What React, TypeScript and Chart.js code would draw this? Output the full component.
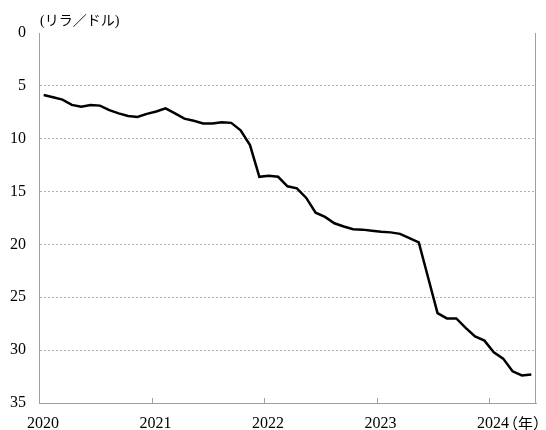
import { useEffect, useRef } from 'react';
import Chart from 'chart.js/auto';

const yearLabels = ['2020', '2021', '2022', '2023', '2024'];
const monthsPerYear = 12;
const monthCount = 53;
const yTickStep = 5;
const yMin = 0;
const yMax = 35;
const yUnit = '(リラ／ドル)';
const xUnit = '（年）';

// USD/TRY monthly, Jan 2020 – May 2024
const rates = [
  5.87, 6.08, 6.3, 6.8, 6.97, 6.82, 6.87, 7.3, 7.6, 7.85, 7.95, 7.65,
  7.42, 7.13, 7.6, 8.1, 8.3, 8.55, 8.55, 8.45, 8.5, 9.2, 10.6, 13.6,
  13.5, 13.6, 14.5, 14.7, 15.6, 17.0, 17.4, 18.0, 18.3, 18.57, 18.6, 18.7,
  18.8, 18.86, 19.0, 19.4, 19.8, 23.15, 26.5, 27.0, 27.0, 27.9, 28.7, 29.1,
  30.2, 30.8, 32.0, 32.4, 32.3,
];

const axisColor = '#a0a0a0';
const gridColor = '#b0b0b0';
const serif = '"Liberation Serif", "Times New Roman", serif';
const jp = '"Liberation Serif", "Noto Sans CJK JP", serif';
const jpFull = '"Noto Sans CJK JP", serif';

const decor = {
  id: 'decor',
  afterDraw(chart: any) {
    const { ctx, chartArea: a, scales } = chart;
    ctx.save();
    ctx.strokeStyle = axisColor;
    ctx.lineWidth = 1;
    ctx.beginPath();
    const rx = Math.round(a.right) - 0.5;
    ctx.moveTo(rx, a.top);
    ctx.lineTo(rx, a.bottom);
    const xs = scales.x;
    xs.ticks.forEach((t: any) => {
      if (t.value === xs.min) return;
      const px = Math.round(xs.getPixelForValue(t.value)) + 0.5;
      ctx.moveTo(px, a.bottom);
      ctx.lineTo(px, a.bottom - 5);
    });
    ctx.stroke();
    ctx.fillStyle = '#000';
    ctx.font = '14px ' + jp;
    ctx.textAlign = 'left';
    ctx.textBaseline = 'middle';
    ctx.fillText(yUnit, a.left + 1, a.top - 12);
    ctx.font = '15px ' + jpFull;
    ctx.fillText(xUnit, a.right - 33, a.bottom + 20);
    ctx.restore();
  },
};

export default function App() {
  const ref = useRef<HTMLCanvasElement>(null);
  useEffect(() => {
    if (!ref.current) return;
    const points = rates.map((v, i) => ({ x: i + 0.5, y: v }));
    const chart = new Chart(ref.current, {
      type: 'line',
      data: {
        datasets: [
          {
            data: points,
            borderColor: '#000',
            borderWidth: 2.5,
            pointRadius: 0,
            tension: 0,
            fill: false,
          },
        ],
      },
      options: {
        animation: false,
        responsive: false,
        layout: { padding: { top: 33, right: 10, left: 0, bottom: 0 } },
        plugins: { legend: { display: false }, tooltip: { enabled: false } },
        scales: {
          x: {
            type: 'linear',
            min: 0,
            max: monthCount,
            afterBuildTicks: (s: any) => {
              s.ticks = yearLabels.map((_, i) => ({ value: i * monthsPerYear }));
            },
            afterFit: (s: any) => {
              s.height = 27;
            },
            ticks: {
              autoSkip: false,
              maxRotation: 0,
              padding: 11,
              labelOffset: 4,
              color: '#000',
              font: { family: serif, size: 16 },
              callback: (v: any) => yearLabels[Math.round(Number(v) / monthsPerYear)],
            },
            grid: { display: false, drawTicks: false },
            border: { display: true, color: axisColor, width: 1 },
          },
          y: {
            type: 'linear',
            reverse: true,
            min: yMin,
            max: yMax,
            afterFit: (s: any) => {
              s.width = 39;
            },
            ticks: {
              stepSize: yTickStep,
              padding: 13,
              color: '#000',
              font: { family: serif, size: 16 },
            },
            grid: {
              drawTicks: false,
              lineWidth: 1,
              color: (c: any) =>
                c.tick && (c.tick.value === yMin || c.tick.value === yMax) ? 'rgba(0,0,0,0)' : gridColor,
            },
            border: { display: true, color: axisColor, width: 1, dash: [2, 2] },
          },
        },
      },
      plugins: [decor],
    });
    return () => chart.destroy();
  }, []);
  return (
    <div style={{ position: 'absolute', left: 0, top: 0, width: 546, height: 430, background: '#fff' }}>
      <canvas ref={ref} width={546} height={430} style={{ width: 546, height: 430 }} />
    </div>
  );
}
